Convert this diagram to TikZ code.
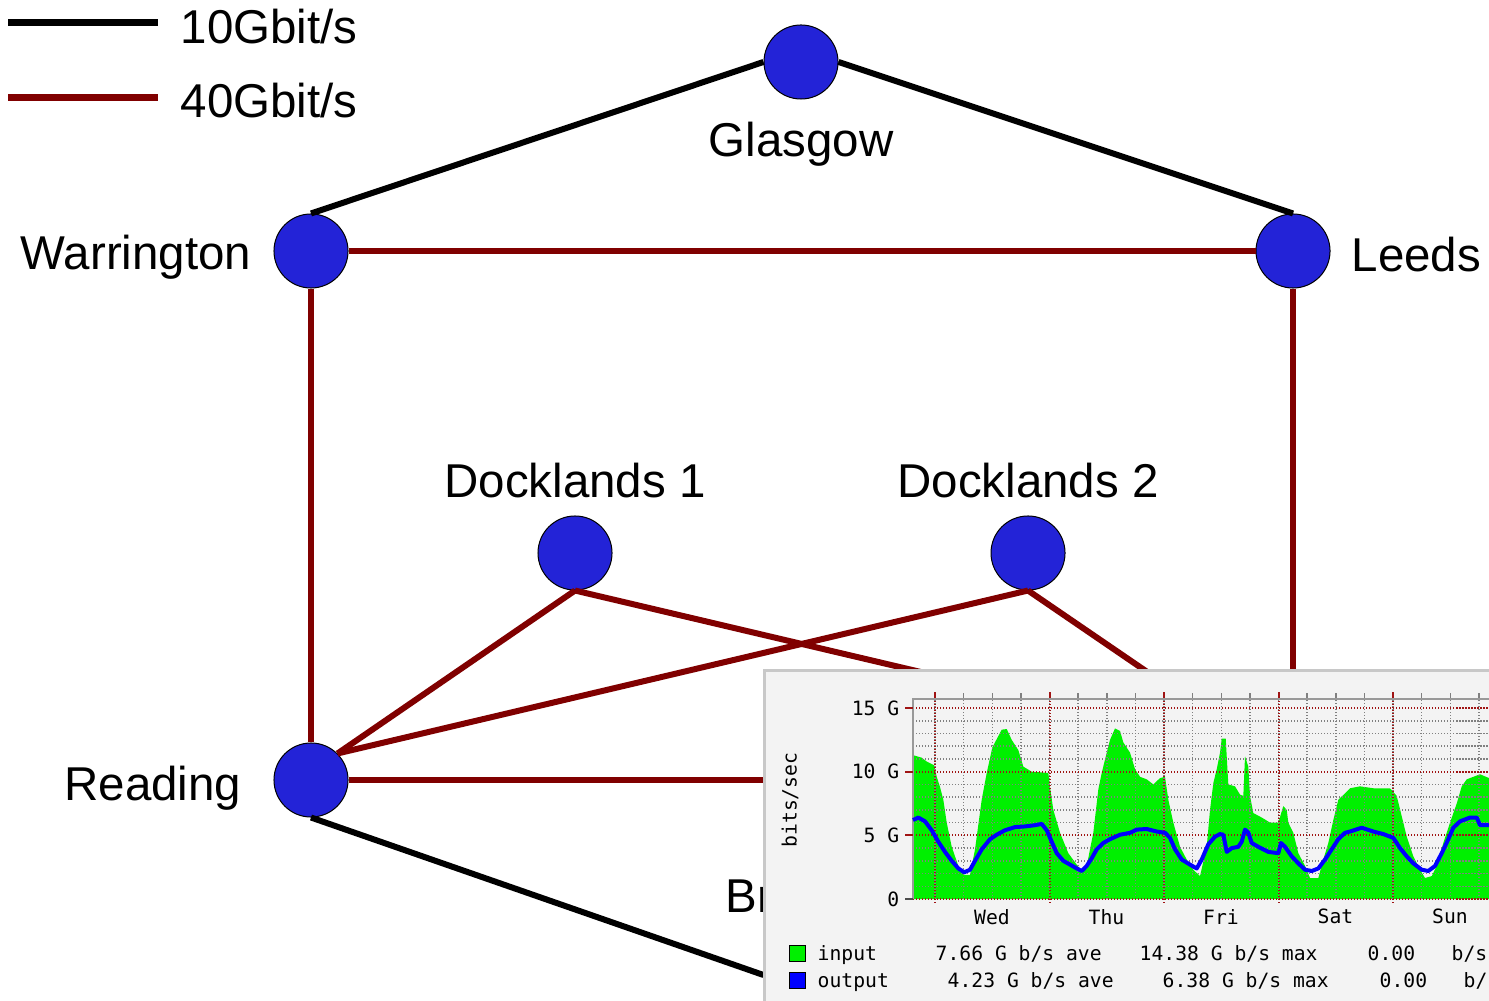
\documentclass[tikz,border=0pt]{standalone}
\usepackage{fontspec}
\setmainfont{Liberation Sans}
\newfontfamily\mrtgfont{DejaVu Sans Mono}
\usepackage{tikz}
\usetikzlibrary{positioning}
\definecolor{linkred}{RGB}{128,0,0}
\definecolor{siteblue}{RGB}{35,35,215}
\definecolor{mrtggreen}{RGB}{0,240,0}
\definecolor{mrtgblue}{RGB}{0,0,255}
\definecolor{gridred}{RGB}{160,20,20}
\definecolor{panelgray}{RGB}{243,243,243}
\definecolor{panelframe}{RGB}{200,200,200}
\newcommand{\sitefont}{\fontsize{13.5}{16}\selectfont}
\newcommand{\mrtgtext}{\mrtgfont\fontsize{5.6}{6.5}\selectfont}

\begin{document}
\begin{tikzpicture}[x=0.01cm, y=-0.01cm,
    tenG/.style={draw=black, line width=0.06cm},
    fortyG/.style={draw=linkred, line width=0.06cm},
    sitename/.style={inner sep=0pt, font=\sitefont},
    mrtglabel/.style={inner sep=0pt, font=\mrtgtext},
    dotgray/.style={draw=black!50, line width=0.015cm, dash pattern=on 0.012cm off 0.018cm},
    dotred/.style={draw=gridred, line width=0.02cm, dash pattern=on 0.012cm off 0.018cm}]
   \useasboundingbox (0,0) rectangle (1489,1001);
   \clip (0,0) rectangle (1489,1001);

   % legend
   \draw[tenG, line width=0.07cm] (8,23) -- (158,23);
   \draw[fortyG, line width=0.07cm] (8,98) -- (158,98);
   \node (keyten) [sitename, anchor=base west] at (180,44) {10Gbit/s};
   \node (keyforty) [sitename, anchor=base west] at (180,118) {40Gbit/s};

   \begin{scope}[every node/.style={circle, draw=black, line width=0.01cm, fill=siteblue, minimum size=0.74cm, inner sep=0pt}]
    \node (glasgow) at (801,62) {};
    \node (warrington) at (311,251) {};
    \node (leeds) at (1293,251) {};
    \node (dockone) at (575,553) {};
    \node (docktwo) at (1028,553) {};
    \node (reading) at (311,780) {};
    \node (hub) at (1293,780) {};
    \node (bristol) at (801,975) {};
   \end{scope}
   \begin{scope}[every edge/.style={fortyG}]
    \draw (warrington.north) edge [tenG] (glasgow.west);
    \draw (glasgow.east) edge [tenG] (leeds.north);
    \draw (warrington) edge (leeds);
    \draw (warrington) edge (reading);
    \draw (leeds) edge (hub);
    \draw (dockone.south) edge (reading.north east);
    \draw (docktwo.south) edge (reading.north east);
    \draw (dockone.south) edge (hub.north west);
    \draw (docktwo.south) edge (hub.north west);
    \draw (reading) edge (hub);
    \draw (reading.south) edge [tenG] (bristol.west);
   \end{scope}

   \node (glasgowname) [sitename, anchor=base] at (801,157) {Glasgow};
   \node (warringtonname) [sitename, anchor=base east] at (252,270) {Warrington};
   \node (leedsname) [sitename, anchor=base west] at (1351,272) {Leeds};
   \node (dockonename) [sitename, anchor=base] at (575,498) {Docklands 1};
   \node (docktwoname) [sitename, anchor=base] at (1028,498) {Docklands 2};
   \node (readingname) [sitename, anchor=base east] at (242,800) {Reading};
   \node (bristolname) [sitename, anchor=base west] at (725,912) {Bristol};

   % traffic graph on top
   \fill[panelgray] (764,670) rectangle (1500,1010);
   \draw[panelframe, line width=0.03cm] (764,1010) -- (764,670) -- (1500,670);
   \begin{scope}[shift={(0,899)}, yscale=-12.73]
    \fill[mrtggreen] (913,0) -- plot coordinates {(913,11.3) (921.7,11.1) (926.7,10.8) (934.3,10.5) (936.7,9.6) (940,8.8) (943.3,7.8) (946.7,6.0) (951.7,4.1) (958.3,2.6) (964.3,1.9) (970,1.9) (975,3.9) (981.7,7.8) (986.7,9.9) (992.3,11.9) (998.3,12.8) (1001.7,13.3) (1006.7,13.35) (1011.7,12.5) (1018.3,11.7) (1023.3,10.4) (1031.7,10.0) (1048.3,9.9) (1050,8.8) (1053.3,7.0) (1060,5.2) (1068.3,3.6) (1076.7,2.7) (1081.7,2.2) (1086.7,2.6) (1093.3,5.2) (1098.3,8.6) (1101.7,9.9) (1106.7,11.5) (1110,12.5) (1115,13.4) (1120,13.2) (1123.3,12.3) (1130,11.5) (1135,10.2) (1140,9.6) (1146.7,9.4) (1153.3,9.0) (1160,9.5) (1165,9.6) (1168.3,7.8) (1173.3,6.0) (1180,4.1) (1186.7,3.1) (1193.3,2.3) (1200,1.8) (1206.7,4.1) (1210,7.0) (1213.3,9.1) (1216.7,10.2) (1220,11.5) (1221.7,12.6) (1225.7,12.6) (1226.7,11.2) (1228.3,9.0) (1235,8.85) (1240,8.2) (1243.3,8.1) (1245,11.2) (1248.3,10.4) (1250,8.1) (1253.3,6.75) (1261.7,6.4) (1270,6.0) (1278.3,6.0) (1283.3,7.3) (1286.7,7.0) (1288.3,6.0) (1293.3,5.2) (1298.3,3.6) (1305,2.6) (1310,1.65) (1318.3,1.65) (1323.3,3.1) (1328.3,4.4) (1333.3,6.2) (1338.3,7.8) (1345,8.3) (1350,8.7) (1360,8.85) (1373.3,8.7) (1390,8.7) (1396.7,8.1) (1401.7,6.5) (1406.7,4.9) (1413.3,3.35) (1420,2.3) (1425,1.65) (1431.7,1.8) (1436.7,2.6) (1443.3,4.4) (1450,6.0) (1456.7,7.5) (1461.7,8.85) (1466.7,9.4) (1476.7,9.7) (1480,9.8) (1489,9.5)} -- (1489,0) -- cycle;
    % grid
    \foreach \v in {1,...,14}
      \draw[dotgray] (913,\v) -- (1489,\v);
    \foreach \k in {0,...,19} {
      \draw[dotgray] ({935+28.625*\k},0) -- ({935+28.625*\k},15.7);
      \draw[black!50, line width=0.015cm] ({935+28.625*\k},15.7) -- ({935+28.625*\k},16.2);
    }
    \foreach \v in {0,5,10,15}
      \draw[dotred] (913,\v) -- (1489,\v);
    \foreach \k in {0,...,4} {
      \draw[dotred] ({935+114.5*\k},-0.3) -- ({935+114.5*\k},15.7);
      \draw[gridred, line width=0.02cm] ({935+114.5*\k},15.7) -- ({935+114.5*\k},16.3);
    }
    \draw[black!40, line width=0.02cm] (913,0) -- (913,15.7) -- (1489,15.7);
    \foreach \v in {5,10,15}
      \draw[gridred, line width=0.02cm] (905,\v) -- (913,\v);
    \draw[black!70, line width=0.02cm] (905,0) -- (913,0);
    \draw[mrtgblue, line width=0.04cm, line join=round] plot coordinates {(913,6.2) (918.3,6.4) (925,6.1) (931.7,5.4) (938.3,4.5) (945,3.7) (951.7,3.0) (958.3,2.4) (964.3,2.1) (970,2.3) (975,3.0) (981.7,3.9) (990,4.7) (996.7,5.05) (1005,5.4) (1015,5.65) (1025,5.7) (1035,5.8) (1041.7,5.9) (1046.7,5.4) (1051.7,4.5) (1056.7,3.6) (1063.3,3.0) (1070,2.7) (1076.7,2.4) (1081.7,2.2) (1086.7,2.6) (1091.7,3.2) (1096.7,3.9) (1103.3,4.4) (1110,4.7) (1120,5.05) (1130,5.2) (1136.7,5.45) (1146.7,5.5) (1156.7,5.3) (1165,5.2) (1170,4.8) (1175,3.9) (1181.7,3.1) (1190,2.7) (1196.7,2.4) (1201.7,3.1) (1208.3,4.3) (1215,4.9) (1220,5.1) (1223.3,5.05) (1226.7,3.7) (1231.7,4.0) (1238.3,4.1) (1241.7,4.5) (1245,5.45) (1248.3,5.2) (1251.7,4.4) (1258.3,4.1) (1268.3,3.7) (1278.3,3.6) (1281,4.4) (1285,4.1) (1291.7,3.35) (1298.3,2.8) (1305,2.3) (1311.7,2.2) (1318.3,2.4) (1325,3.1) (1331.7,3.9) (1338.3,4.7) (1345,5.2) (1350,5.3) (1361.7,5.6) (1373.3,5.3) (1383.3,5.1) (1393.3,4.8) (1400,4.0) (1406.7,3.35) (1413.3,2.8) (1421.7,2.3) (1428.3,2.2) (1435,2.6) (1441.7,3.6) (1448.3,4.7) (1453.3,5.6) (1460,6.1) (1470,6.4) (1476.7,6.4) (1480,5.8) (1489,5.8)};
    \node (gfifteen) [mrtglabel, anchor=east] at (900,15) {15 G};
    \node (gten) [mrtglabel, anchor=east] at (900,10) {10 G};
    \node (gfive) [mrtglabel, anchor=east] at (900,5) {5 G};
    \node (gzero) [mrtglabel, anchor=east] at (900,0) {0};
    \node (wed) [mrtglabel] at (992,-1.4) {Wed};
    \node (thu) [mrtglabel] at (1106.5,-1.4) {Thu};
    \node (fri) [mrtglabel] at (1221,-1.4) {Fri};
    \node (sat) [mrtglabel] at (1335.5,-1.4) {Sat};
    \node (sun) [mrtglabel] at (1450,-1.4) {Sun};
   \end{scope}
   \node (yaxis) [mrtglabel, rotate=90] at (790,800) {bits/sec};

   % graph key
   \draw[black, line width=0.01cm, fill=mrtggreen] (789,945) rectangle (805,961);
   \draw[black, line width=0.01cm, fill=mrtgblue] (789,972) rectangle (805,988);
   \node (inname) [mrtglabel, anchor=base west] at (817,960) {input};
   \node (inave) [mrtglabel, anchor=base west] at (935,960) {7.66 G b/s ave};
   \node (inmax) [mrtglabel, anchor=base west] at (1139,960) {14.38 G b/s max};
   \node (incur) [mrtglabel, anchor=base west] at (1367,960) {0.00};
   \node (inunit) [mrtglabel, anchor=base west] at (1451,960) {b/s};
   \node (outname) [mrtglabel, anchor=base west] at (817,987) {output};
   \node (outave) [mrtglabel, anchor=base west] at (947,987) {4.23 G b/s ave};
   \node (outmax) [mrtglabel, anchor=base west] at (1162,987) {6.38 G b/s max};
   \node (outcur) [mrtglabel, anchor=base west] at (1379,987) {0.00};
   \node (outunit) [mrtglabel, anchor=base west] at (1463,987) {b/s};
\end{tikzpicture}
\end{document}
